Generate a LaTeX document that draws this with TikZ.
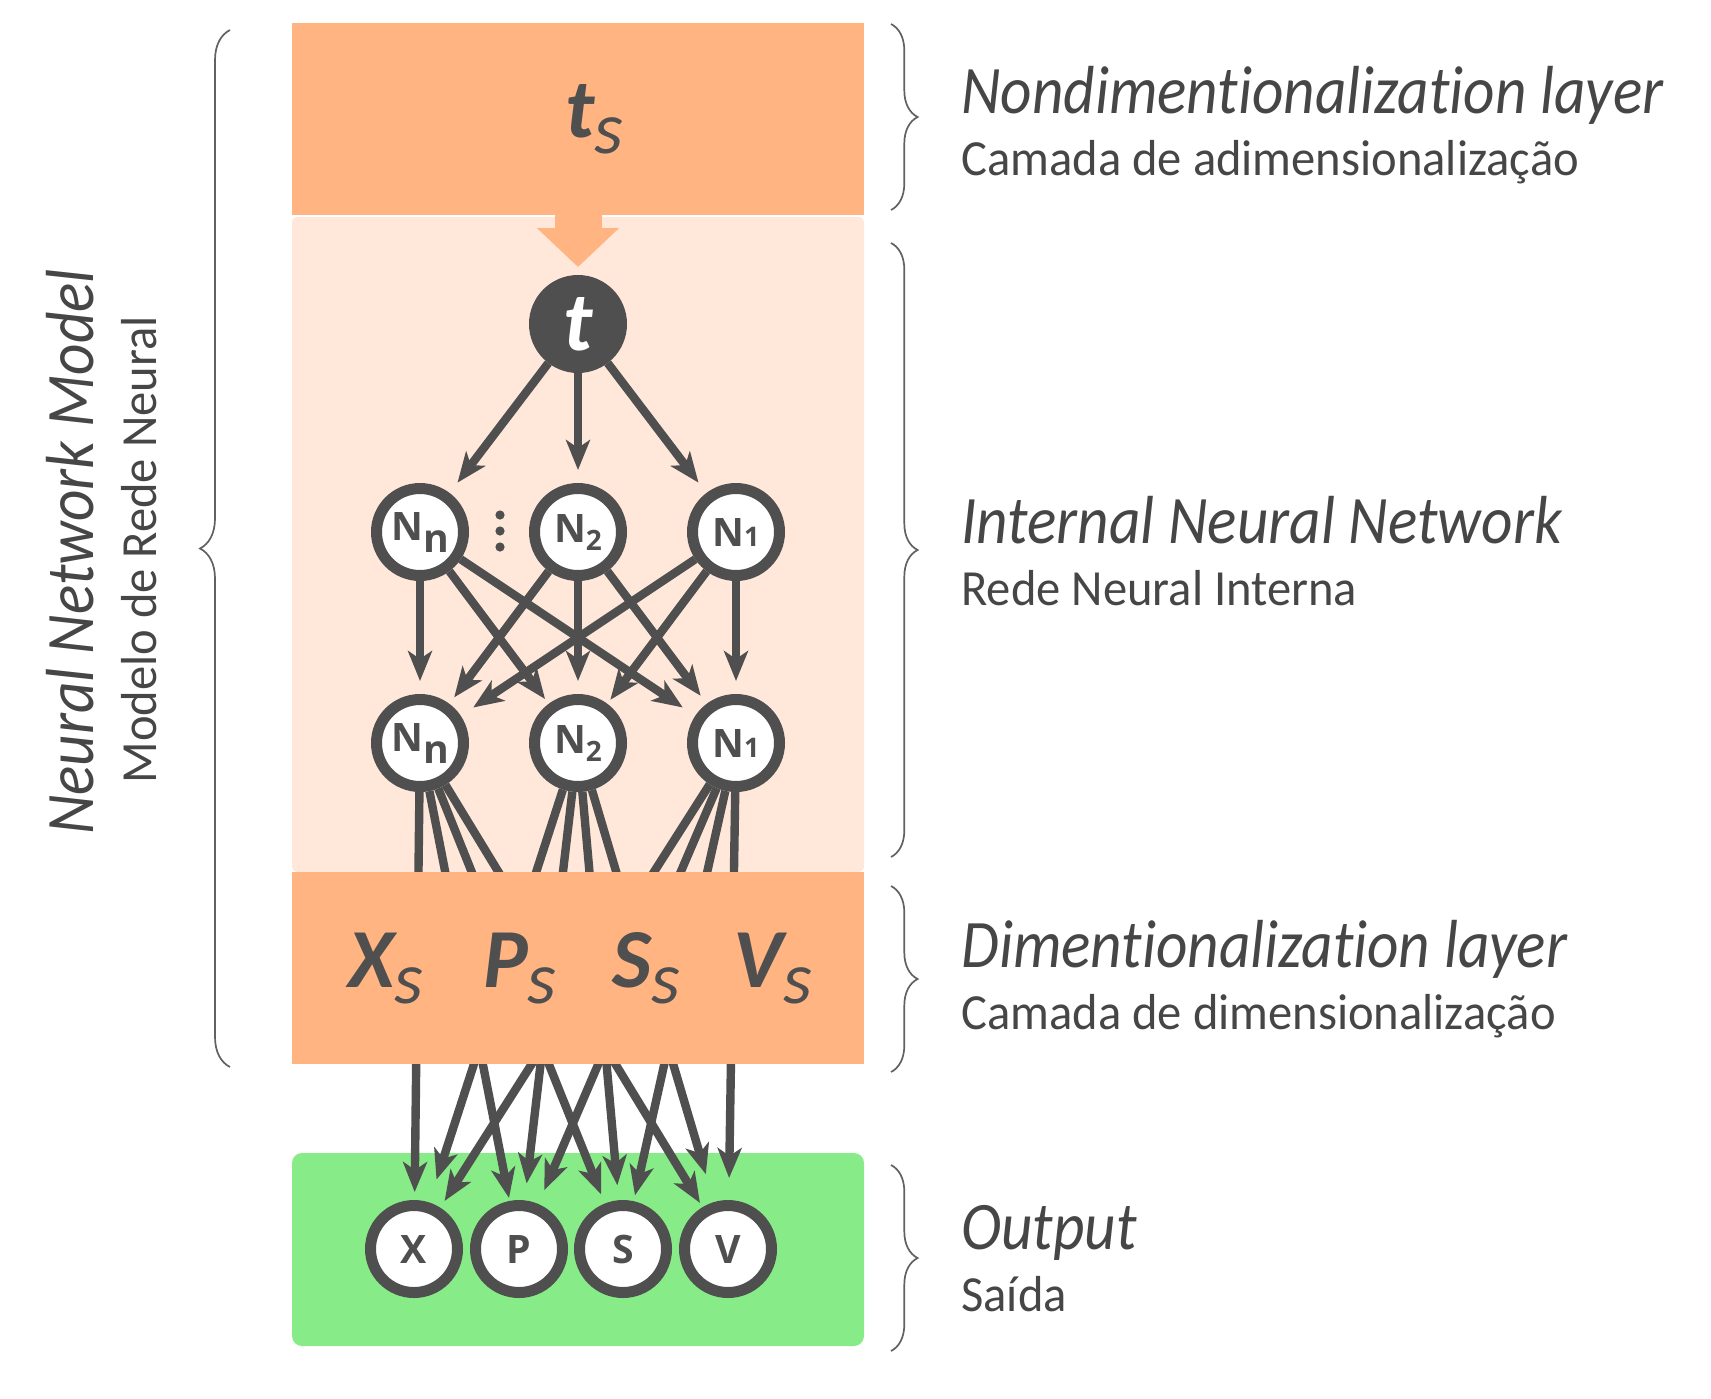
\documentclass[tikz,border=0pt]{standalone}
\usepackage{fontspec}
\setmainfont[Ligatures=NoCommon]{Carlito}
\newfontfamily\headfont[FakeStretch=0.9,Ligatures=NoCommon]{Carlito}
\newfontfamily\capfont[FakeStretch=0.96,Ligatures=NoCommon]{Carlito}
\newfontfamily\neurfont{Open Sans}
\usetikzlibrary{arrows.meta,decorations.pathreplacing}

\definecolor{dimorange}{HTML}{FFB482}
\definecolor{netpeach}{HTML}{FFE8DA}
\definecolor{outgreen}{HTML}{87EC87}
\definecolor{ink}{HTML}{4F4F4F}
\definecolor{txt}{HTML}{464646}

% scaled variable: big letter with a lowered s
\newcommand{\scaled}[1]{#1\raisebox{-8pt}{\fontseries{m}\fontsize{37}{37}\selectfont s}}

\tikzset{
  layerbox/.style={rectangle, inner sep=0pt, outer sep=0pt, minimum width=286pt},
  neuron/.style={circle, draw=ink, line width=5.5pt, fill=white, minimum size=43.5pt,
    inner sep=0pt, text=ink, font=\neurfont\bfseries\fontsize{19.6}{20}\selectfont},
  tnode/.style={circle, fill=ink, minimum size=49pt, inner sep=0pt, outer sep=0pt,
    text=white, font=\bfseries\itshape\fontsize{42}{42}\selectfont},
  sym/.style={inner sep=0pt, text=ink, font=\bfseries\itshape\fontsize{42}{42}\selectfont},
  link/.style={draw=ink, line width=4.2pt, -{Stealth[length=15pt,width=12pt,inset=4pt]}},
  feed/.style={draw=dimorange, line width=23.5pt, -{Triangle[length=19.5pt,width=40pt]}, shorten >=4pt},
  head/.style={inner sep=0pt, text=txt, font=\headfont\itshape\fontsize{34}{34}\selectfont},
  sub/.style={inner sep=0pt, text=txt, font=\capfont\fontsize{25.3}{26}\selectfont},
  rbrace/.style={draw=ink!90, line width=0.85pt, decorate, decoration={brace, amplitude=13.3pt}},
  lbrace/.style={draw=ink!90, line width=0.85pt, decorate, decoration={brace, amplitude=15pt}}
}

\begin{document}
\begin{tikzpicture}[x=0.5pt, y=-0.5pt]
  \useasboundingbox (0,0) rectangle (1711,1398);

  % Layer boxes
  \node[layerbox, fill=dimorange, minimum height=96pt] (nondim) at (578,119) {};
  \node[layerbox, fill=netpeach, minimum height=327.5pt, rounded corners=2.5pt] (inner) at (578,544.5) {};
  \node[layerbox, fill=outgreen, minimum height=96.5pt, rounded corners=5pt] (out) at (578,1249.5) {};
  \node[sym, anchor=base] (tsym) at (594,137) {\scaled{t}};

  % Neurons
  \node[tnode] (t) at (578,324) {t};
  \node[neuron] (Ln) at (420,532) {N\raisebox{-6pt}{n}};
  \node[neuron] (L2) at (578,532) {N\raisebox{-4pt}{\fontsize{14}{14}\selectfont 2}};
  \node[neuron] (L1) at (736,532) {N{\fontsize{13.5}{14}\selectfont 1}};
  \node[neuron] (Mn) at (420,743) {N\raisebox{-6pt}{n}};
  \node[neuron] (M2) at (578,743) {N\raisebox{-4pt}{\fontsize{14}{14}\selectfont 2}};
  \node[neuron] (M1) at (736,743) {N{\fontsize{13.5}{14}\selectfont 1}};
  \node[neuron] (X) at (414,1249) {X};
  \node[neuron] (P) at (519,1249) {P};
  \node[neuron] (S) at (623,1249) {S};
  \node[neuron] (V) at (728,1249) {V};
  \foreach \dy in {-16,0,16}
    \fill[ink] (500,531+\dy) circle (2.3pt);

  % Feed into the network
  \draw[feed] (nondim.south) -- (t);

  % Edges
  \foreach \b in {Ln,L2,L1}
    \draw[link, shorten >=6.5pt] (t) -- (\b);
  \foreach \a/\b/\g in {Ln/Mn/6.5pt, Ln/M2/3pt, Ln/M1/7.5pt,
                        L2/Mn/4pt, L2/M2/6.5pt, L2/M1/5pt,
                        L1/Mn/7.5pt, L1/M2/2.5pt, L1/M1/6.5pt}
    \draw[link, shorten >=\g] (\a) -- (\b);
  \foreach \a/\b/\g in {Mn/X/4pt, M2/X/12pt, M1/X/4pt,
                        Mn/P/1.5pt, M2/P/8.5pt, M1/P/7.5pt,
                        Mn/S/5pt, M2/S/7.5pt, M1/S/3pt,
                        Mn/V/2.5pt, M2/V/14.5pt, M1/V/11pt}
    \draw[link, shorten >=\g] (\a) -- (\b);

  % Dimentionalization layer on top of the wires
  \node[layerbox, fill=dimorange, minimum height=96pt] (dim) at (578,968) {};
  \node[sym, anchor=base] (xs) at (386,987) {\scaled{X}};
  \node[sym, anchor=base] (ps) at (520,987) {\scaled{P}};
  \node[sym, anchor=base] (ss) at (646,987) {\scaled{S}};
  \node[sym, anchor=base] (vs) at (773,987) {\scaled{V}};

  % Braces
  \draw[lbrace] (230,1067) -- (230,30);
  \draw[rbrace] (891,24) -- (891,210);
  \draw[rbrace] (891,243) -- (891,857);
  \draw[rbrace] (891,886) -- (891,1072);
  \draw[rbrace] (891,1165) -- (891,1351);

  % Labels
  \node[head, rotate=90, anchor=base] (modelT) at (93,552) {Neural Network Model};
  \node[sub, rotate=90, anchor=base] (modelS) at (156,550) {Modelo de Rede Neural};
  \node[head, anchor=base west] (nondimT) at (961,113) {Nondimentionalization layer};
  \node[sub, anchor=base west] (nondimS) at (961,175) {Camada de adimensionalização};
  \node[head, anchor=base west] (innerT) at (961,543) {Internal Neural Network};
  \node[sub, anchor=base west] (innerS) at (961,605) {Rede Neural Interna};
  \node[head, anchor=base west] (dimT) at (961,967) {Dimentionalization layer};
  \node[sub, anchor=base west] (dimS) at (961,1029) {Camada de dimensionalização};
  \node[head, anchor=base west] (outT) at (961,1249) {Output};
  \node[sub, anchor=base west] (outS) at (961,1311) {Saída};
\end{tikzpicture}
\end{document}
